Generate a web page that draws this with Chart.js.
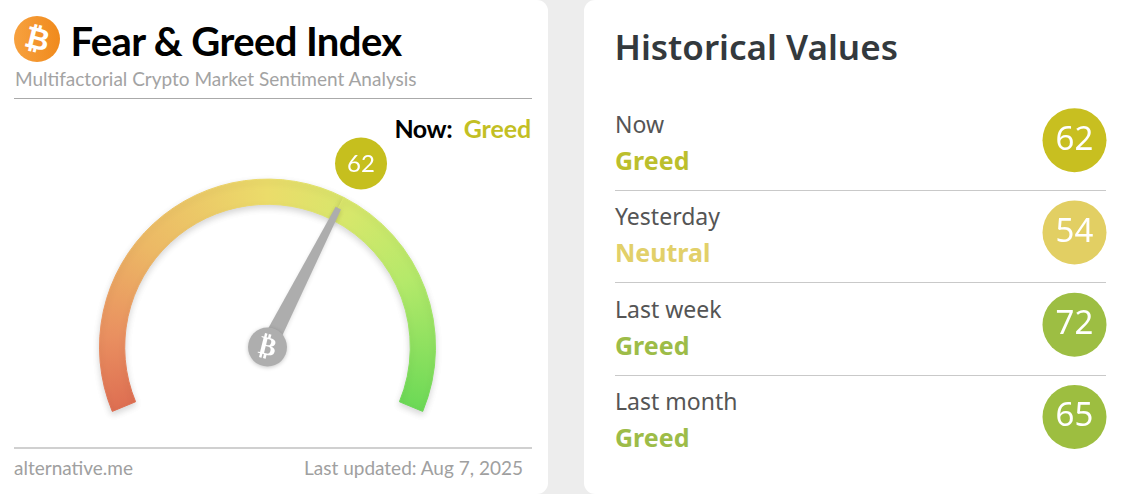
<!DOCTYPE html>
<html>
<head>
<meta charset="utf-8">
<title>Fear & Greed Index</title>
<script src="https://cdn.jsdelivr.net/npm/chart.js@4"></script>
<style>
  html,body{margin:0;padding:0;width:1125px;height:494px;overflow:hidden;background:#ededed}
  .card{position:absolute;background:#fff;overflow:hidden}
  #left{left:0;top:0;width:548px;height:494px;border-radius:0 11px 11px 0;font-family:Lato,sans-serif}
  #right{left:584px;top:0;width:541px;height:494px;border-radius:11px 0 0 11px;font-family:"Noto Sans",sans-serif}
  .abs{position:absolute;white-space:nowrap;line-height:1}
  .rule{position:absolute;height:1px;background:#c9c9c9}
  #icon{position:absolute;left:14px;top:16px;width:46px;height:46px;border-radius:50%;background:linear-gradient(90deg,#f7a13f,#f08a1c);color:#fff;font:bold 30px/46px "DejaVu Sans",sans-serif;text-align:center}
  #icon span{display:inline-block;transform:rotate(14deg)}
  #gauge{position:absolute;left:91px;top:130px;width:353px;height:294px}
  #badges{position:absolute;left:1034px;top:94px;width:81px;height:369px}
</style>
</head>
<body>
<div class="card" id="left">
  <div id="icon"><span>₿</span></div>
  <div class="abs" id="title" style="left:70.5px;top:21px;font-size:40px;font-weight:700;color:#000;letter-spacing:-.6px">Fear &amp; Greed Index</div>
  <div class="abs" style="left:15px;top:69px;font-size:19px;color:#a3a3a3">Multifactorial Crypto Market Sentiment Analysis</div>
  <div class="rule" style="left:14px;top:98px;width:518px;background:#aaa"></div>
  <div class="abs" style="right:17px;top:116px;font-size:25px;font-weight:700;letter-spacing:-.4px;color:#000">Now:&nbsp; <span id="nowStatus" style="color:#c3bf24;letter-spacing:-.1px"></span></div>
  <div class="rule" style="left:14px;top:447px;width:518px;height:2px;background:#d0d0d0"></div>
  <div class="abs" style="left:14px;top:458px;font-size:19px;color:#a0a0a0">alternative.me</div>
  <div class="abs" style="right:25px;top:458px;font-size:19px;color:#a0a0a0">Last updated: Aug 7, 2025</div>
</div>
<div class="card" id="right">
  <div class="abs" style="left:30.5px;top:29px;font-size:35px;font-weight:600;color:#33393d">Historical Values</div>
  <div id="rows"></div>
</div>
<canvas id="gauge" width="353" height="294"></canvas>
<canvas id="badges" width="81" height="369"></canvas>
<script>
// Fear & Greed gauge + historical badges

const gaugeSlices = [62, 38];          // current reading, rest of the 0-100 scale
const nowStatus = 'Greed';

const historyLabels = ['Now', 'Yesterday', 'Last week', 'Last month'];
const historyValues = [62, 54, 72, 65];
const historyStatus = ['Greed', 'Neutral', 'Greed', 'Greed'];
const historyColors = ['#c8bf20', '#e2cf63', '#9dbe43', '#9dbe40'];
const statusColors = ['#bcbf2c', '#e2d069', '#9dbc48', '#9dbc48'];

document.getElementById('nowStatus').textContent = nowStatus;

// rows on the right are plain html, circles come from the chart below
document.getElementById('rows').innerHTML = historyLabels.map((label, i) => `
  <div class="abs" style="left:31px;top:${113 + i * 92.33}px;font-size:23px;color:#555">${label}</div>
  <div class="abs" style="left:31px;top:${148 + i * 92.33}px;font-size:25px;font-weight:700;color:${statusColors[i]}">${historyStatus[i]}</div>
  ${i < 3 ? `<div class="rule" style="left:31px;width:491px;top:${190 + i * 92.33}px"></div>` : ''}`).join('');

function gaugeGradient(chart){
  const area = chart.chartArea;
  if (!area) return '#e8da68';
  // arc touches the top of the area, arc elements have no x/y yet when options resolve
  const r = (area.right - area.left) / 2;
  // clockwise from straight down, so 0.1875 is the red end and 0.8125 the green end
  const g = chart.ctx.createConicGradient(Math.PI / 2, area.left + r, area.top + r);
  g.addColorStop(0.1875, '#de6f52');
  g.addColorStop(0.26, '#e98f60');
  g.addColorStop(0.36, '#ecb865');
  g.addColorStop(0.5, '#ebdc6a');
  g.addColorStop(0.59, '#d6e76b');
  g.addColorStop(0.68, '#b4e96a');
  g.addColorStop(0.8125, '#6cd956');
  return g;
}

const gaugeParts = {
  id: 'gaugeParts',
  beforeDatasetsDraw(chart){
    const c = chart.ctx;
    c.save();
    c.shadowColor = 'rgba(0,0,0,.16)';
    c.shadowBlur = 6;
    c.shadowOffsetY = 3;
  },
  afterDatasetsDraw(chart){
    const c = chart.ctx;
    c.restore();
    const arc = chart.getDatasetMeta(0).data[0];
    const a = arc.endAngle;
    const { x, y } = arc;
    const px = -Math.sin(a), py = Math.cos(a);
    const tipR = 156;

    // needle
    c.save();
    c.shadowColor = 'rgba(0,0,0,.12)';
    c.shadowBlur = 4;
    c.shadowOffsetY = 2;
    c.fillStyle = '#adadad';
    c.beginPath();
    c.moveTo(x + px * 8.5, y + py * 8.5);
    c.lineTo(x + Math.cos(a) * tipR + px * 3, y + Math.sin(a) * tipR + py * 3);
    c.lineTo(x + Math.cos(a) * tipR - px * 3, y + Math.sin(a) * tipR - py * 3);
    c.lineTo(x - px * 8.5, y - py * 8.5);
    c.closePath();
    c.fill();

    // hub
    c.shadowColor = 'rgba(0,0,0,.22)';
    c.shadowBlur = 4;
    c.shadowOffsetY = 1;
    c.fillStyle = '#aeaeae';
    c.beginPath();
    c.arc(x, y, 19.5, 0, Math.PI * 2);
    c.fill();
    c.restore();

    c.save();
    c.translate(x, y);
    c.rotate(14 * Math.PI / 180);
    c.fillStyle = '#fff';
    c.font = 'bold 26px "DejaVu Sans"';
    c.textAlign = 'center';
    c.textBaseline = 'middle';
    c.fillText('₿', 0, 1);
    c.restore();

    // reading badge sits just outside the ring, at the needle angle
    const bx = x + Math.cos(a) * 206, by = y + Math.sin(a) * 206;
    c.save();
    c.fillStyle = '#c6bf1e';
    c.beginPath();
    c.arc(bx, by, 26, 0, Math.PI * 2);
    c.fill();
    c.fillStyle = '#fff';
    c.font = '24px Lato';
    c.textAlign = 'center';
    c.textBaseline = 'middle';
    c.fillText(String(gaugeSlices[0]), bx, by + 1);
    c.restore();
  }
};

new Chart(document.getElementById('gauge'), {
  type: 'doughnut',
  data: {
    labels: ['Index', 'Rest'],
    datasets: [{
      data: gaugeSlices,
      backgroundColor: ctx => gaugeGradient(ctx.chart),
      borderColor: ctx => gaugeGradient(ctx.chart),
      borderWidth: 1
    }]
  },
  options: {
    responsive: false,
    animation: false,
    rotation: -112.5,
    circumference: 225,
    cutout: '85%',
    layout: { padding: { top: 48.5, bottom: 12, left: 8, right: 8 } },
    plugins: { legend: { display: false }, tooltip: { enabled: false } }
  },
  plugins: [gaugeParts]
});

const badgeText = {
  id: 'badgeText',
  afterDatasetsDraw(chart){
    const c = chart.ctx;
    c.save();
    c.fillStyle = '#fff';
    c.font = '33px "Noto Sans"';
    c.textAlign = 'center';
    c.textBaseline = 'middle';
    chart.getDatasetMeta(0).data.forEach((pt, i) => c.fillText(String(historyValues[i]), pt.x, pt.y));
    c.restore();
  }
};

new Chart(document.getElementById('badges'), {
  type: 'scatter',
  data: {
    datasets: [{
      data: historyLabels.map((label, i) => ({ x: 0, y: label, v: historyValues[i] })),
      backgroundColor: historyColors,
      borderWidth: 0,
      pointRadius: 32,
      pointHoverRadius: 32,
      clip: false
    }]
  },
  options: {
    responsive: false,
    animation: false,
    layout: { autoPadding: false },
    scales: {
      x: { type: 'linear', min: -1, max: 1, display: false },
      y: { type: 'category', labels: historyLabels, offset: true, display: false }
    },
    plugins: { legend: { display: false }, tooltip: { enabled: false } }
  },
  plugins: [badgeText]
});
</script>
</body>
</html>
